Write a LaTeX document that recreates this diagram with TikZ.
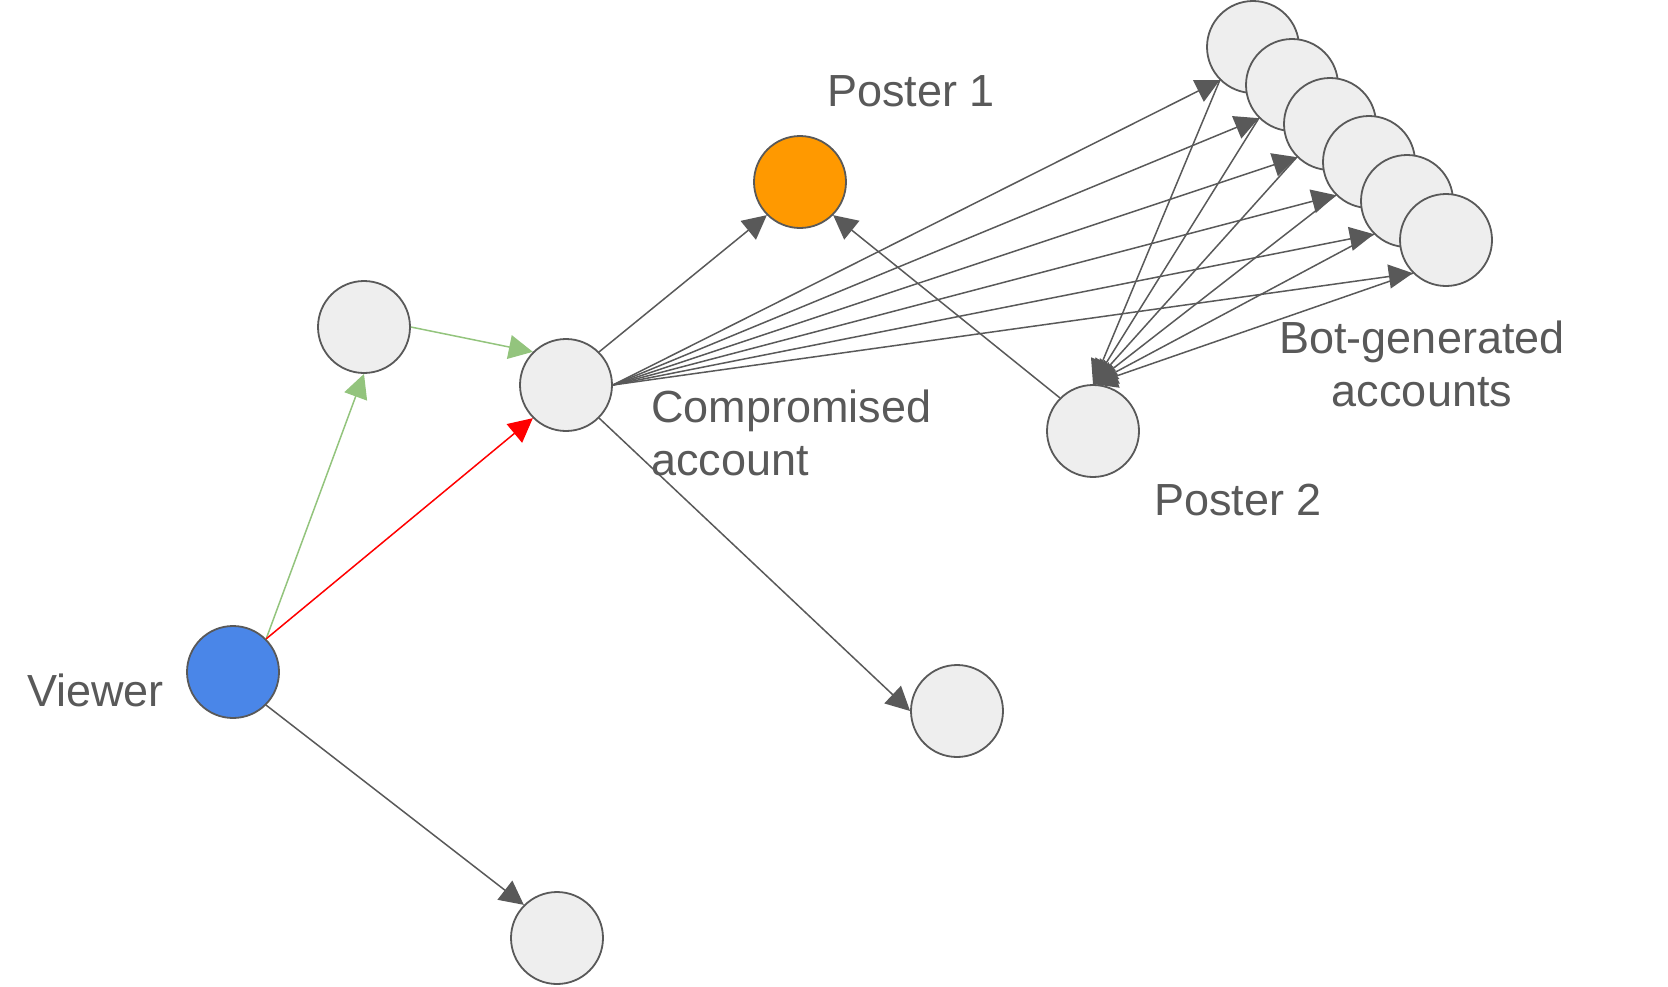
\documentclass[tikz,border=0pt]{standalone}
\usepackage{fontspec}
\setmainfont{Liberation Sans}
\usetikzlibrary{arrows.meta}
\definecolor{linegray}{HTML}{595959}
\definecolor{nodegray}{HTML}{EEEEEE}
\definecolor{viewerblue}{HTML}{4A86E8}
\definecolor{posterorange}{HTML}{FF9900}
\definecolor{edgegreen}{HTML}{93C47D}
\definecolor{edgered}{HTML}{FF0000}
\begin{document}
\begin{tikzpicture}[x=1pt,y=-1pt,
  nd/.style={circle, draw=linegray, line width=1.8pt, fill=nodegray, minimum size=92pt, inner sep=0pt},
  arr/.style={draw=linegray, line width=1.5pt, -{Triangle[length=24pt,width=24pt]}},
  arrgreen/.style={arr, draw=edgegreen, fill=edgegreen},
  arrred/.style={arr, draw=edgered, fill=edgered},
  lbl/.style={text=linegray, inner sep=0pt, font=\fontsize{45pt}{52pt}\selectfont}]
\useasboundingbox (0,0) rectangle (1668,986);

% nodes
\node[nd, fill=viewerblue] (viewer) at (233,672) {};
\node[nd] (a) at (364,327) {};
\node[nd] (comp) at (566,385) {};
\node[nd, fill=posterorange] (p1) at (800,182) {};
\node[nd] (bottom) at (557,938) {};
\node[nd] (rl) at (957,711) {};
\node[nd] (p2) at (1093,431) {};
\node[nd] (b1) at (1253,47) {};
\node[nd] (b2) at (1292,85) {};
\node[nd] (b3) at (1330,124) {};
\node[nd] (b4) at (1369,162) {};
\node[nd] (b5) at (1407,201) {};
\node[nd] (b6) at (1446,240) {};

% labels
\node[lbl, anchor=base west] (lp1) at (827,106) {Poster 1};
\node[lbl, anchor=base west] (lcomp1) at (651,422) {Compromised};
\node[lbl, anchor=base west] (lcomp2) at (651,475) {account};
\node[lbl, anchor=base west] (lview) at (27,706) {Viewer};
\node[lbl, anchor=base west] (lp2) at (1154,515) {Poster 2};
\node[lbl, anchor=base] (lbot1) at (1422,353) {Bot-generated};
\node[lbl, anchor=base] (lbot2) at (1422,406) {accounts};

% connectors
\draw[arrgreen] (viewer.north east) -- (a.south);
\draw[arrred] (viewer.north east) -- (comp.south west);
\draw[arrgreen] (a.east) -- (comp.north west);
\draw[arr] (viewer.south east) -- (bottom.north west);
\draw[arr] (comp.north east) -- (p1.south west);
\draw[arr] (comp.south east) -- (rl.west);
\draw[arr] (p2.north west) -- (p1.south east);
\foreach \i in {1,...,6}{
  \draw[arr] (comp.east) -- (b\i.south west);
  \draw[arr] (b\i.south west) -- (p2.north);
}
\end{tikzpicture}
\end{document}
